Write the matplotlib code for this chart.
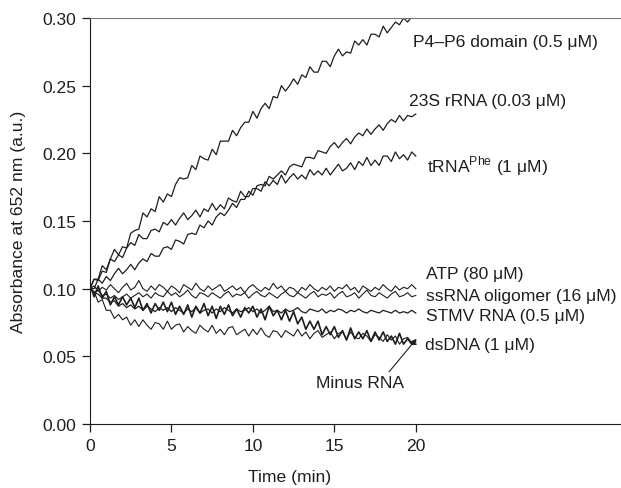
import numpy as np
import matplotlib
matplotlib.use('Agg')
import matplotlib.pyplot as plt

plt.rcParams['font.family'] = ['Liberation Sans', 'DejaVu Sans']
plt.rcParams['mathtext.fontset'] = 'custom'
plt.rcParams['mathtext.rm'] = 'Liberation Sans'

# sampling every 0.25 min, 0..20 min
time_min = np.arange(81) * 0.25

# absorbance readings in milli-units (mAU)
p4p6 = [100, 107, 107, 117, 114, 122, 129, 125, 131, 130,
        141, 143, 144, 156, 153, 159, 157, 168, 164, 170,
        168, 177, 182, 181, 182, 191, 188, 198, 196, 195,
        203, 199, 209, 209, 209, 217, 213, 219, 223, 223,
        231, 226, 233, 237, 233, 242, 241, 250, 246, 250,
        255, 251, 258, 256, 264, 260, 260, 268, 268, 264,
        272, 277, 272, 275, 274, 283, 280, 284, 280, 288,
        288, 286, 294, 289, 293, 297, 295, 300, 297, 301,
        301]
rrna_23s = [100, 100, 107, 104, 109, 106, 111, 115, 111, 114,
            118, 114, 119, 122, 120, 126, 124, 124, 130, 131,
            129, 136, 135, 133, 140, 141, 140, 147, 145, 150,
            147, 153, 156, 154, 158, 163, 160, 166, 166, 172,
            169, 176, 177, 176, 183, 181, 184, 187, 184, 190,
            192, 191, 190, 197, 197, 196, 202, 201, 200, 205,
            208, 204, 208, 211, 207, 212, 215, 213, 218, 214,
            218, 221, 217, 222, 225, 223, 228, 224, 228, 227,
            229]
trna_phe = [100, 107, 106, 113, 112, 122, 120, 125, 123, 130,
            134, 132, 140, 137, 137, 143, 144, 142, 149, 147,
            151, 147, 152, 156, 151, 154, 158, 153, 159, 157,
            163, 158, 162, 159, 167, 165, 164, 172, 168, 168,
            174, 174, 172, 179, 176, 180, 177, 184, 178, 182,
            185, 181, 184, 181, 188, 184, 187, 184, 189, 184,
            188, 192, 187, 189, 193, 188, 194, 191, 197, 191,
            195, 191, 198, 198, 194, 201, 196, 199, 195, 201,
            198]
atp = [100, 102, 98, 101, 99, 103, 100, 97, 101, 104,
       99, 101, 106, 100, 98, 102, 99, 103, 101, 98,
       102, 100, 97, 103, 101, 99, 104, 100, 98, 102,
       99, 101, 103, 98, 100, 102, 99, 101, 97, 101,
       103, 100, 98, 101, 99, 104, 100, 102, 98, 101,
       100, 97, 101, 99, 103, 100, 98, 101, 99, 102,
       98, 101, 100, 103, 99, 101, 97, 102, 100, 98,
       101, 99, 103, 100, 98, 102, 99, 101, 100, 103,
       100]
ssrna = [100, 97, 99, 95, 96, 93, 95, 92, 94, 96,
         93, 95, 97, 94, 96, 93, 97, 95, 94, 98,
         95, 97, 94, 96, 99, 95, 93, 97, 96, 94,
         97, 95, 93, 96, 98, 94, 96, 95, 97, 93,
         96, 98, 95, 94, 97, 95, 93, 96, 98, 95,
         94, 97, 95, 93, 96, 98, 94, 96, 95, 97,
         93, 96, 98, 94, 95, 97, 93, 96, 99, 95,
         94, 97, 95, 93, 96, 98, 94, 95, 97, 94,
         95]
stmv = [100, 97, 96, 93, 93, 90, 91, 87, 89, 86,
        88, 85, 87, 84, 87, 85, 83, 86, 84, 86,
        83, 86, 84, 82, 85, 83, 86, 82, 84, 85,
        82, 85, 83, 86, 84, 82, 85, 83, 84, 86,
        83, 85, 82, 84, 87, 83, 84, 82, 85, 83,
        84, 86, 83, 82, 85, 84, 83, 85, 82, 84,
        83, 85, 84, 82, 84, 83, 85, 83, 82, 84,
        83, 82, 84, 83, 82, 84, 82, 83, 82, 84,
        82]
minus_rna = [103, 94, 102, 93, 98, 88, 94, 88, 94, 88,
             93, 86, 93, 84, 89, 82, 89, 84, 90, 83,
             90, 81, 87, 81, 88, 79, 87, 82, 89, 80,
             87, 78, 87, 81, 88, 80, 85, 79, 86, 82,
             87, 79, 85, 77, 87, 80, 84, 77, 84, 76,
             83, 74, 79, 70, 76, 70, 76, 66, 72, 66,
             72, 64, 69, 62, 71, 63, 68, 63, 69, 61,
             68, 62, 68, 61, 65, 59, 67, 59, 63, 59,
             59]
dsdna = [100, 98, 90, 92, 84, 84, 78, 81, 77, 79,
         73, 77, 72, 77, 73, 70, 75, 74, 70, 76,
         70, 73, 74, 68, 72, 69, 67, 73, 70, 68,
         73, 67, 70, 66, 71, 72, 66, 68, 70, 65,
         70, 66, 71, 66, 64, 69, 68, 64, 69, 67,
         65, 70, 65, 68, 63, 67, 69, 64, 66, 68,
         63, 67, 68, 63, 68, 64, 63, 67, 65, 61,
         66, 64, 61, 66, 62, 65, 59, 63, 64, 60,
         61]

series = [p4p6, rrna_23s, trna_phe, atp, ssrna, stmv, dsdna, minus_rna]
widths = [0.9, 0.9, 0.9, 0.8, 0.8, 0.9, 0.8, 1.2]

labels = ['P4\u2013P6 domain (0.5 \u03bcM)', '23S rRNA (0.03 \u03bcM)',
          'tRNA$^{\\mathrm{Phe}}$ (1 \u03bcM)', 'ATP (80 \u03bcM)',
          'ssRNA oligomer (16 \u03bcM)', 'STMV RNA (0.5 \u03bcM)',
          'dsDNA (1 \u03bcM)']
label_x = [19.8, 19.6, 20.7, 20.6, 20.6, 20.6, 20.55]
label_y = [0.283, 0.239, 0.191, 0.111, 0.0947, 0.0805, 0.059]

ink = '#1e1e1e'
fs = 12.6

fig = plt.figure(figsize=(6.21, 4.89), dpi=100)
ax = fig.add_axes([90 / 621, 64 / 489, 531 / 621, 406 / 489])

for vals, lw in zip(series, widths):
    ax.plot(time_min, np.array(vals) / 1000.0, color=ink, linewidth=lw)

for txt, x, y in zip(labels, label_x, label_y):
    ax.text(x, y, txt, fontsize=fs, color=ink, ha='left', va='center')

ax.annotate('Minus RNA', xy=(20.05, 0.063), xytext=(13.9, 0.031),
            fontsize=fs, color=ink, ha='left', va='center',
            arrowprops=dict(arrowstyle='-|>', color=ink, lw=0.8,
                            mutation_scale=8, shrinkA=0, shrinkB=0,
                            relpos=(0.8, 1.0)))

ax.set_xlim(0, 32.6)
ax.set_ylim(0, 0.30)
ax.set_xticks([0, 5, 10, 15, 20])
ax.set_yticks([0, 0.05, 0.10, 0.15, 0.20, 0.25, 0.30])
ax.set_yticklabels(['0.00', '0.05', '0.10', '0.15', '0.20', '0.25', '0.30'])

ax.spines['right'].set_visible(False)
ax.spines['top'].set_color('#777777')
ax.spines['left'].set_color(ink)
ax.spines['bottom'].set_color(ink)
ax.tick_params(direction='out', length=6, width=0.9, colors=ink,
               labelsize=fs, pad=4)

ax.set_xlabel('Time (min)', fontsize=fs, color=ink)
ax.set_ylabel('Absorbance at 652 nm (a.u.)', fontsize=fs, color=ink)
ax.xaxis.set_label_coords(200 / 531, -0.111)
ax.yaxis.set_label_coords(-0.12, 0.5)

plt.savefig('out.png', dpi=100)
plt.close()
